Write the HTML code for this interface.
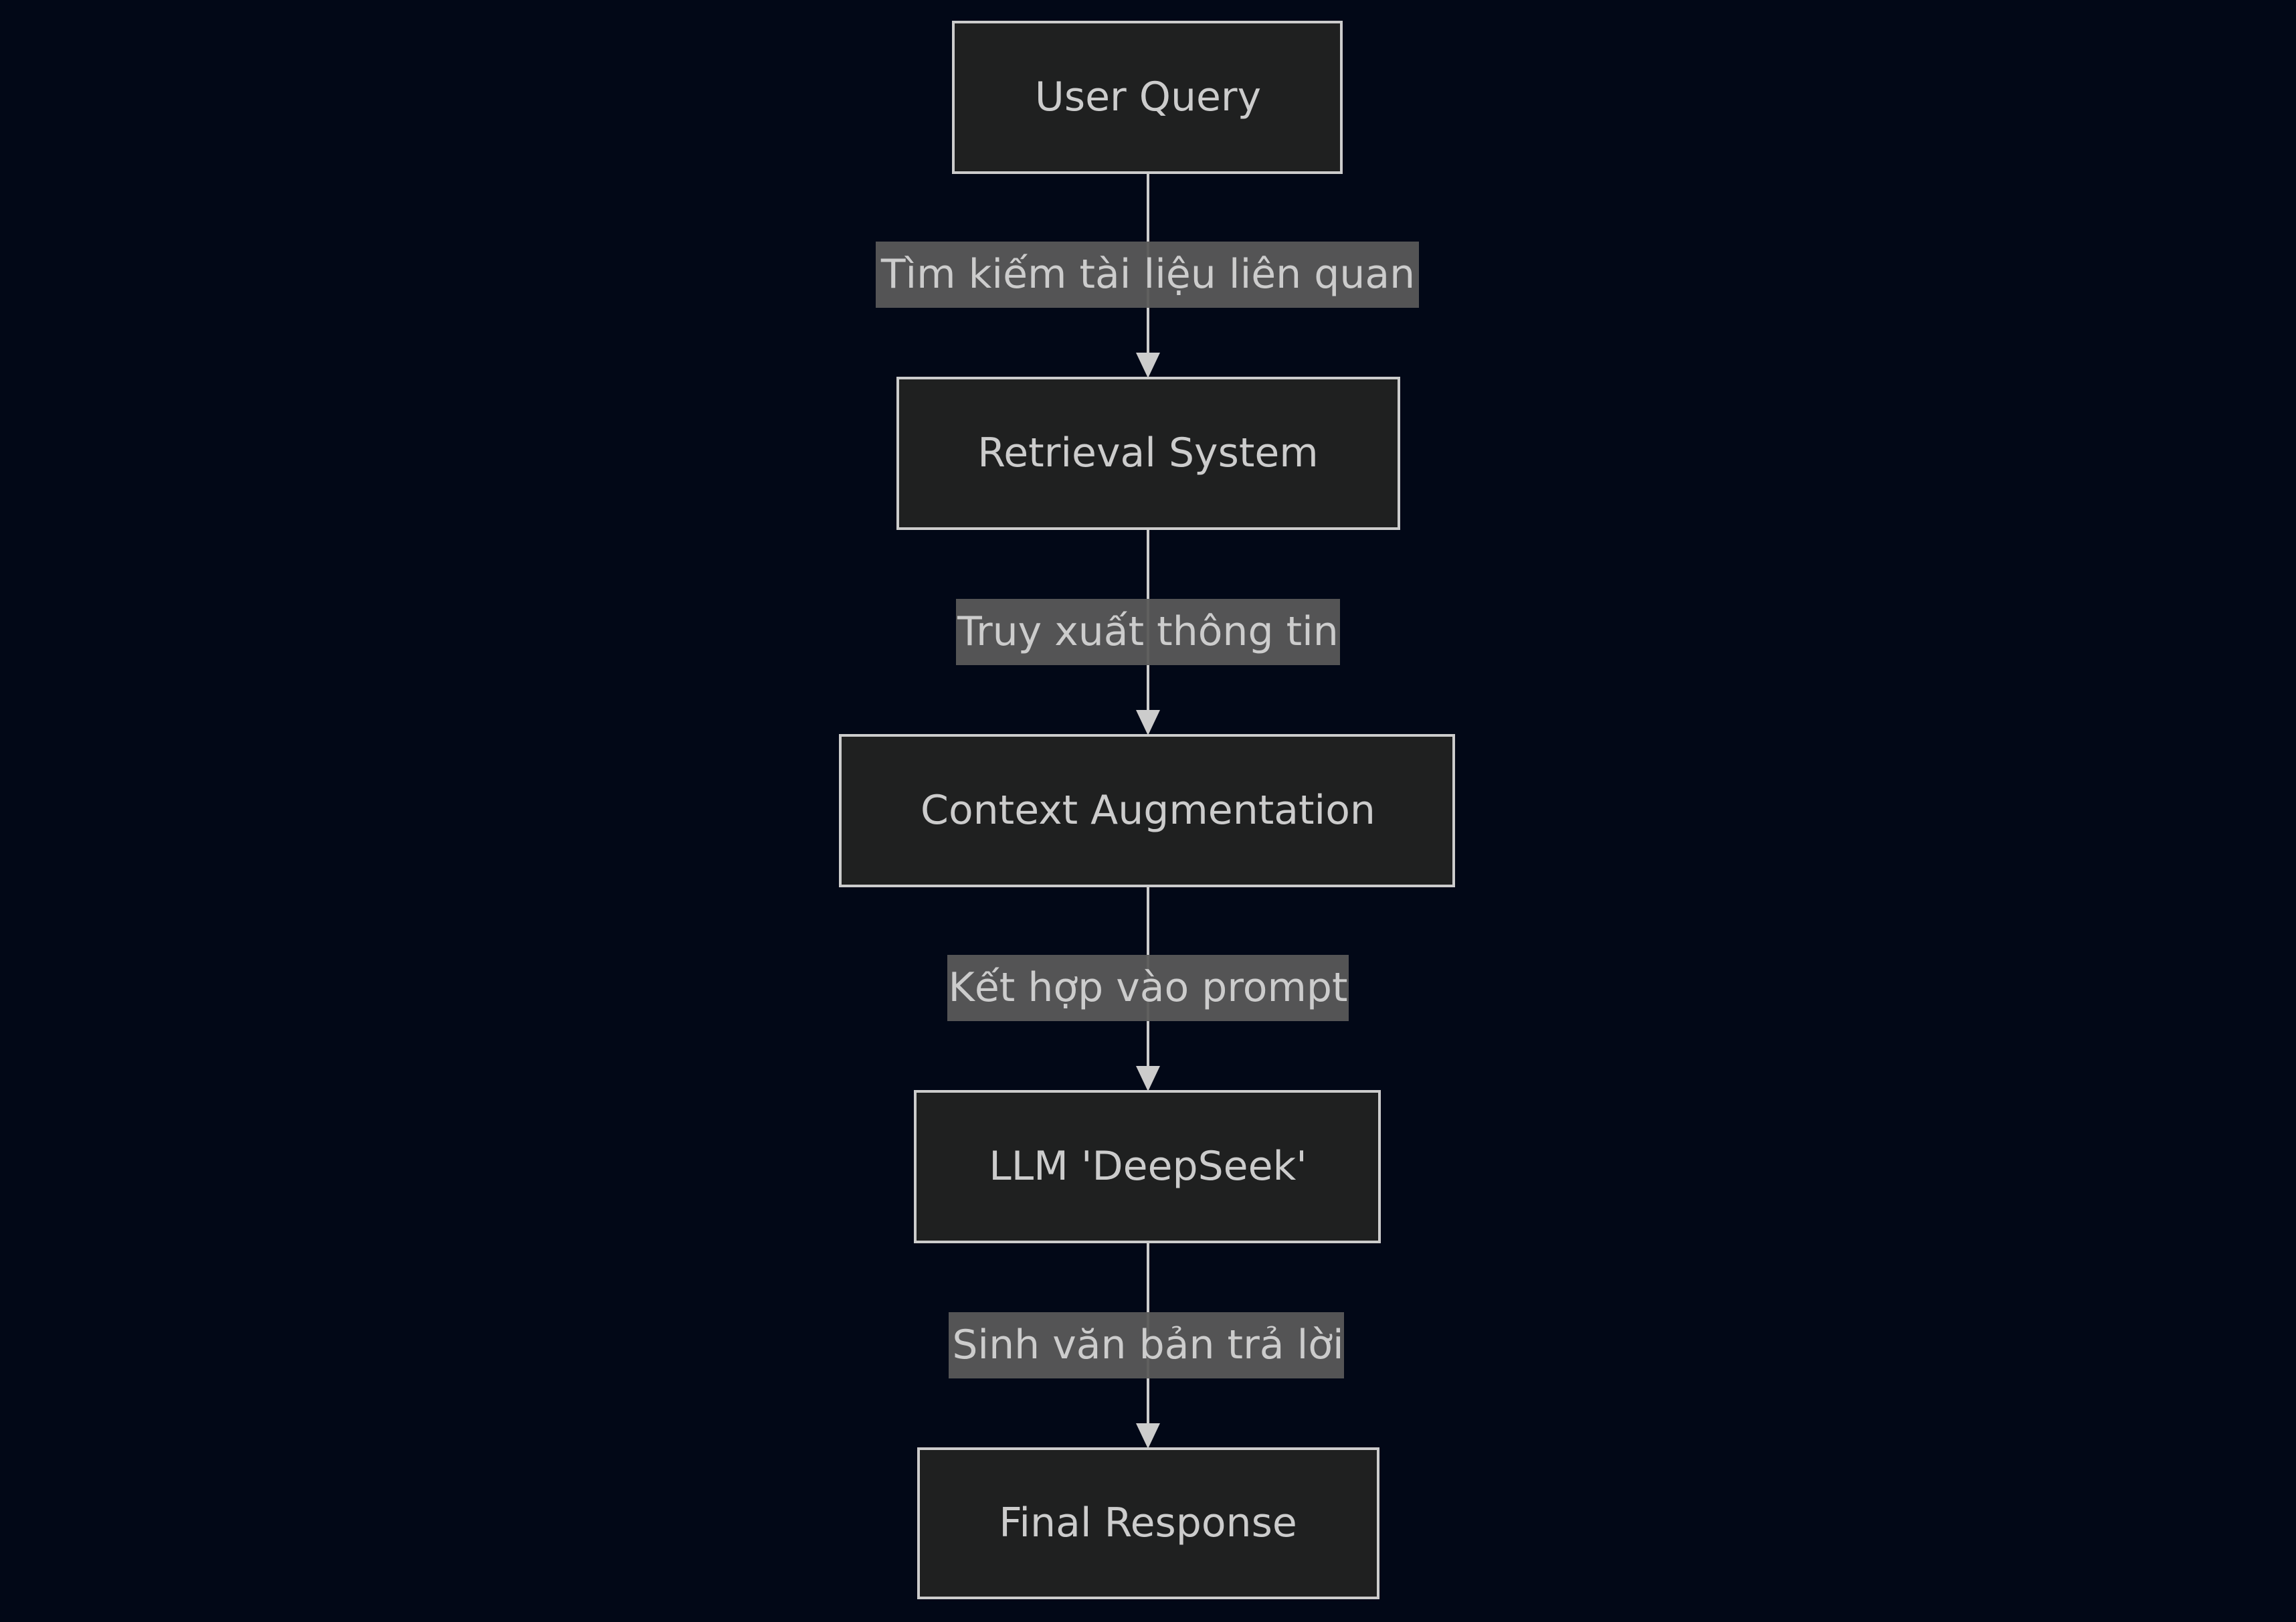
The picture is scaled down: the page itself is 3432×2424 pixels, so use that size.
<!DOCTYPE html>
<html><head><meta charset="utf-8"><style>
html,body{margin:0;padding:0;background:#020817;}
svg{display:block}
text{font-family:"DejaVu Sans","Liberation Sans",sans-serif;font-size:60px;fill:#cccccc;text-anchor:middle;dominant-baseline:central}
</style></head><body>
<svg width="3432" height="2424" viewBox="0 0 3432 2424" xmlns="http://www.w3.org/2000/svg">
<rect width="3432" height="2424" fill="#020817"/>
<defs><marker id="a" markerWidth="10" markerHeight="10" refX="9" refY="5" orient="auto" markerUnits="userSpaceOnUse" viewBox="0 0 10 10"><path d="M0,0 L10,5 L0,10 z" fill="#cccccc"/></marker></defs>
<g stroke="#cccccc" stroke-width="4" fill="none">
<line x1="1716" y1="258" x2="1716" y2="528"/>
<line x1="1716" y1="790" x2="1716" y2="1062"/>
<line x1="1716" y1="1324" x2="1716" y2="1594"/>
<line x1="1716" y1="1856" x2="1716" y2="2128"/>
</g>
<g fill="#cccccc">
<path d="M1698,527 L1734,527 L1716,565 z"/>
<path d="M1698,1061 L1734,1061 L1716,1099 z"/>
<path d="M1698,1593 L1734,1593 L1716,1631 z"/>
<path d="M1698,2127 L1734,2127 L1716,2165 z"/>
</g>
<g fill="#585858" opacity="0.95">
<rect x="1309" y="361" width="812" height="99"/>
<rect x="1429" y="895" width="574" height="99"/>
<rect x="1416" y="1427" width="600" height="99"/>
<rect x="1418" y="1961" width="591" height="99"/>
</g>
<text x="1716" y="410">Tìm kiếm tài liệu liên quan</text>
<text x="1716" y="944">Truy xuất thông tin</text>
<text x="1716" y="1476">Kết hợp vào prompt</text>
<text x="1716" y="2010">Sinh văn bản trả lời</text>
<g fill="#1f2020" stroke="#cccccc" stroke-width="4">
<rect x="1425" y="33" width="580" height="225"/>
<rect x="1342" y="565" width="749" height="225"/>
<rect x="1256" y="1099" width="917" height="225"/>
<rect x="1368" y="1631" width="694" height="225"/>
<rect x="1373" y="2165" width="687" height="223"/>
</g>
<text x="1716" y="145">User Query</text>
<text x="1716" y="677">Retrieval System</text>
<text x="1716" y="1211">Context Augmentation</text>
<text x="1716" y="1743">LLM 'DeepSeek'</text>
<text x="1716" y="2276">Final Response</text>
</svg>
</body></html>
